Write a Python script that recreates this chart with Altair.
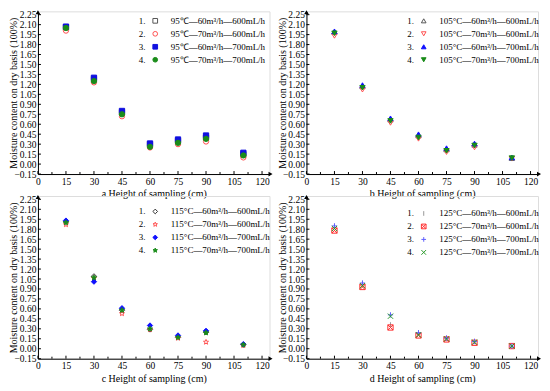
import math
import altair as alt
import pandas as pd

# ---------------- data ----------------
heights = [15, 30, 45, 60, 75, 90, 110]
numbers = ["1.", "2.", "3.", "4."]

temps = ["95℃", "105°C", "115°C", "125°C"]
prefixes = ["a", "b", "c", "d"]
conds = ["60m³/h—600mL/h", "70m³/h—600mL/h", "60m³/h—700mL/h", "70m³/h—700mL/h"]

vals_95 = [
    [2.06, 1.28, 0.78, 0.30, 0.35, 0.40, 0.15],
    [2.01, 1.23, 0.72, 0.25, 0.30, 0.34, 0.10],
    [2.07, 1.30, 0.80, 0.31, 0.37, 0.43, 0.17],
    [2.05, 1.25, 0.75, 0.26, 0.32, 0.38, 0.13],
]
vals_105 = [
    [1.99, 1.17, 0.67, 0.43, 0.22, 0.29, 0.09],
    [1.93, 1.12, 0.62, 0.38, 0.18, 0.25, 0.08],
    [2.00, 1.19, 0.69, 0.45, 0.24, 0.31, 0.10],
    [1.97, 1.15, 0.65, 0.40, 0.20, 0.28, 0.09],
]
vals_115 = [
    [1.91, 1.09, 0.58, 0.29, 0.17, 0.25, 0.06],
    [1.87, 1.06, 0.53, 0.29, 0.16, 0.10, 0.05],
    [1.93, 1.01, 0.61, 0.35, 0.20, 0.27, 0.07],
    [1.90, 1.07, 0.58, 0.30, 0.17, 0.24, 0.06],
]
vals_125 = [
    [1.84, 0.98, 0.36, 0.24, 0.16, 0.11, 0.04],
    [1.78, 0.93, 0.32, 0.20, 0.14, 0.09, 0.04],
    [1.85, 0.99, 0.51, 0.24, 0.16, 0.11, 0.04],
    [1.81, 0.95, 0.49, 0.21, 0.15, 0.10, 0.04],
]
all_vals = [vals_95, vals_105, vals_115, vals_125]

x_ticks = [0, 15, 30, 45, 60, 75, 90, 105, 120]
x_minor = [7.5, 22.5, 37.5, 52.5, 67.5, 82.5, 97.5, 112.5]
y_ticks = [round(-0.15 + 0.15 * i, 2) for i in range(17)]

# ---------------- styling ----------------
FONT = "Liberation Serif"
W, H = 232, 163

def star_path(n=5, r1=1.0, r2=0.42):
    pts = []
    for i in range(2 * n):
        a = -math.pi / 2 + i * math.pi / n
        r = r1 if i % 2 == 0 else r2
        pts.append(f"{r*math.cos(a):.3f},{r*math.sin(a):.3f}")
    return "M" + "L".join(pts) + "Z"

STAR = star_path()
VLINE = "M0,-1L0,1"
BOXX = "M-1,-1L1,1M-1,1L1,-1M-1,-1L1,-1L1,1L-1,1Z"
PLUS = "M-1,0L1,0M0,-1L0,1"
XSHAPE = "M-1,-1L1,1M-1,1L1,-1"

NONE = "rgba(0,0,0,0)"
panel_styles = [
    dict(shapes=["square", "circle", "square", "circle"],
         strokes=["#555555", "#ff5050", "#1010e0", "#1a8c1a"],
         fills=[NONE, NONE, "#1010e0", "#1a8c1a"], legY=5),
    dict(shapes=["triangle-up", "triangle-down", "triangle-up", "triangle-down"],
         strokes=["#555555", "#ff5050", "#1010ff", "#1a8c1a"],
         fills=[NONE, NONE, "#1010ff", "#1a8c1a"], legY=5),
    dict(shapes=["diamond", STAR, "diamond", STAR],
         strokes=["#333333", "#ff5050", "#1010ff", "#1a8c1a"],
         fills=[NONE, NONE, "#1010ff", "#1a8c1a"], legY=11),
    dict(shapes=[VLINE, BOXX, PLUS, XSHAPE],
         strokes=["#999999", "#ff3030", "#6060ff", "#2a9a2a"],
         fills=[NONE, NONE, NONE, NONE], legY=13),
]


def panel(i):
    temp = temps[i]
    series = [f"{temp}—{c}" for c in conds]
    st = panel_styles[i]
    rows = []
    for s_idx, s in enumerate(series):
        for h, v in zip(heights, all_vals[i][s_idx]):
            rows.append({"h": h, "v": v, "series": s, "num": numbers[s_idx]})
    df = pd.DataFrame(rows)

    xscale = alt.Scale(domain=[0, 124], nice=False, zero=False)
    yscale = alt.Scale(domain=[-0.15, 2.30], nice=False, zero=False)
    xaxis = alt.Axis(values=x_ticks, title=f"{prefixes[i]} Height of sampling (cm)",
                     grid=False, ticks=False, domainColor="black",
                     labelFont=FONT, labelFontSize=9.5, labelColor="black",
                     labelPadding=2, titleFont=FONT, titleFontSize=10,
                     titleFontWeight="normal", titleColor="black",
                     titlePadding=3, labelFlush=False, labelOverlap=False)
    yaxis = alt.Axis(values=y_ticks, format=".2f",
                     title="Moisture content on dry basis (100%)",
                     grid=False, ticks=False, domainColor="black",
                     labelFont=FONT, labelFontSize=9.5, labelColor="black",
                     labelPadding=2, titleFont=FONT, titleFontSize=10,
                     titleFontWeight="normal", titleColor="black",
                     titleX=-19, labelFlush=False, labelOverlap=False)

    leg = alt.Legend(title=None, orient="none", legendX=113, legendY=st["legY"],
                     labelFont=FONT, labelFontSize=9, labelColor="black",
                     symbolSize=22, labelOffset=11, rowPadding=3, padding=0,
                     symbolStrokeWidth=1, labelLimit=300)
    numleg = alt.Legend(title=None, orient="none", legendX=92, legendY=st["legY"],
                        labelFont=FONT, labelFontSize=9, labelColor="black",
                        symbolSize=1, symbolOpacity=0, symbolStrokeColor=NONE,
                        symbolFillColor=NONE, labelOffset=0, rowPadding=3, padding=0)

    points = alt.Chart(df).mark_point(size=28, strokeWidth=1, opacity=1).encode(
        x=alt.X("h:Q", scale=xscale, axis=xaxis),
        y=alt.Y("v:Q", scale=yscale, axis=yaxis),
        shape=alt.Shape("series:N", scale=alt.Scale(domain=series, range=st["shapes"]), legend=leg),
        stroke=alt.Stroke("series:N", scale=alt.Scale(domain=series, range=st["strokes"]), legend=leg),
        fill=alt.Fill("series:N", scale=alt.Scale(domain=series, range=st["fills"]), legend=leg),
        opacity=alt.Opacity("num:N", scale=alt.Scale(domain=numbers, range=[1, 1]), legend=numleg),
    )

    xt = alt.Chart(pd.DataFrame({"h": x_ticks})).mark_rule(color="black", strokeWidth=1).encode(
        x=alt.X("h:Q", scale=xscale, axis=xaxis), y=alt.value(H), y2=alt.value(H - 3))
    xminor = alt.Chart(pd.DataFrame({"h": x_minor})).mark_rule(
        color="black", strokeWidth=1).encode(
        x=alt.X("h:Q", scale=xscale, axis=xaxis), y=alt.value(H), y2=alt.value(H - 2))
    yt = alt.Chart(pd.DataFrame({"v": y_ticks})).mark_rule(color="black", strokeWidth=1).encode(
        y=alt.Y("v:Q", scale=yscale, axis=yaxis), x=alt.value(0), x2=alt.value(3))

    arrow_df = pd.DataFrame({"k": [0]})
    arr_x = alt.Chart(arrow_df).mark_point(shape="triangle-right", filled=True, color="black",
                                           size=22, opacity=1).encode(
        x=alt.value(W + 1), y=alt.value(H))
    arr_y = alt.Chart(arrow_df).mark_point(shape="triangle-up", filled=True, color="black",
                                           size=22, opacity=1).encode(
        x=alt.value(0), y=alt.value(1))

    return alt.layer(points, xt, xminor, yt, arr_x, arr_y).resolve_scale(
        shape="independent", stroke="independent", fill="independent", opacity="independent"
    ).properties(width=W, height=H)


chart = alt.concat(panel(0), panel(1), panel(2), panel(3), columns=2,
                   spacing={"row": 22, "column": 37}, bounds="flush").properties(
    padding={"left": 0, "top": 0, "right": 0, "bottom": 0}
).configure_view(stroke=None).configure(font=FONT).resolve_scale(
    shape="independent", stroke="independent", fill="independent", opacity="independent")

chart.save("out.html", embed_options={"renderer": "svg", "actions": False})
